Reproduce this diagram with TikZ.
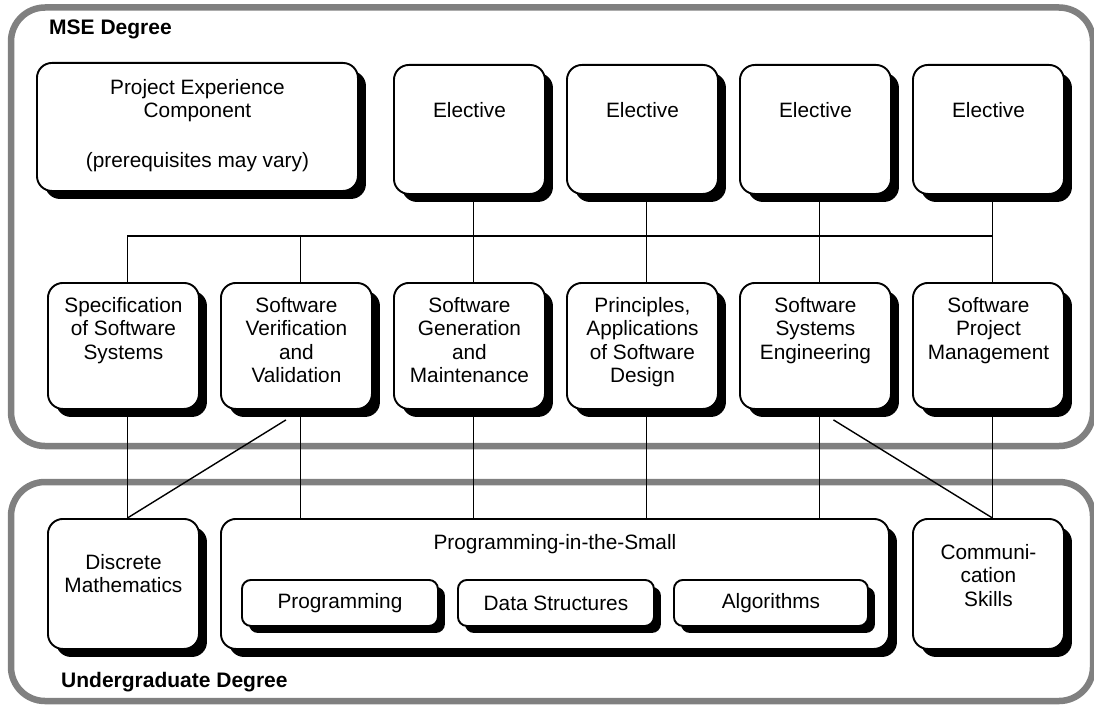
\documentclass[tikz,border=0pt]{standalone}
\usepackage{fontspec}
\setmainfont{Liberation Sans}
\usetikzlibrary{shadows,calc}
\begin{document}
\begin{tikzpicture}[x=1pt,y=-1pt,
  box/.style={draw, line width=1.9pt, fill=white, rounded corners=15pt, inner sep=0pt, anchor=north west,
    drop shadow={shadow xshift=8pt, shadow yshift=-8pt, fill=black, opacity=1}},
  sbox/.style={draw, line width=1.9pt, fill=white, rounded corners=9pt, anchor=north west, inner sep=0pt,
    font=\fontsize{20.8}{23.5}\selectfont,
    drop shadow={shadow xshift=7pt, shadow yshift=-7pt, fill=black, opacity=1}},
  txt/.style={font=\fontsize{20.8}{23.5}\selectfont, align=center, inner sep=0pt, anchor=north},
  ttl/.style={font=\fontsize{21}{24}\selectfont\bfseries, inner sep=0pt, anchor=base west},
  outer/.style={draw=gray, line width=6.5pt, rounded corners=34pt},
  conn/.style={line width=1.8pt}]
\useasboundingbox (0,0) rectangle (1094,706);
% degree frames
\draw[outer] (11,7.5) rectangle (1093,446);
\draw[outer] (11,482) rectangle (1093,701);
\node[ttl] (mse) at (49,35) {MSE Degree};
\node[ttl] (ug) at (61,687) {Undergraduate Degree};
% top row
\node[box, minimum width=321pt, minimum height=128pt] (proj) at (36,62) {};
\node[txt] (projt) at ([yshift=-17pt]proj.north) {Project Experience\\Component\\[26.5pt](prerequisites may vary)};
\foreach \i/\x in {1/393,2/566,3/739,4/912}{
  \node[box, minimum width=151pt, minimum height=129pt] (el\i) at (\x,64) {};
  \node[txt] (el\i t) at ([yshift=-38pt]el\i.north) {Elective};
}
% middle row
\node[box, minimum width=151pt, minimum height=126pt] (spec) at (47,282) {};
\node[box, minimum width=151pt, minimum height=126pt] (svv) at (220,282) {};
\node[box, minimum width=151pt, minimum height=126pt] (sgm) at (393,282) {};
\node[box, minimum width=151pt, minimum height=126pt] (pasd) at (566,282) {};
\node[box, minimum width=151pt, minimum height=126pt] (sse) at (739,282) {};
\node[box, minimum width=151pt, minimum height=126pt] (spm) at (912,282) {};
\node[txt] (spect) at ([yshift=-15pt]spec.north) {Specification\\of Software\\Systems};
\node[txt] (svvt) at ([yshift=-15pt]svv.north) {Software\\Verification\\and\\Validation};
\node[txt] (sgmt) at ([yshift=-15pt]sgm.north) {Software\\Generation\\and\\Maintenance};
\node[txt] (pasdt) at ([yshift=-15pt]pasd.north) {Principles,\\Applications\\of Software\\Design};
\node[txt] (sset) at ([yshift=-15pt]sse.north) {Software\\Systems\\Engineering};
\node[txt] (spmt) at ([yshift=-15pt]spm.north) {Software\\Project\\Management};
% bottom row
\node[box, minimum width=151pt, minimum height=130pt] (dm) at (47,518) {};
\node[box, minimum width=668pt, minimum height=130pt] (pits) at (220,518) {};
\node[box, minimum width=151pt, minimum height=130pt] (comm) at (912,518) {};
\node[txt] (dmt) at ([yshift=-36pt]dm.north) {Discrete\\Mathematics};
\node[txt] (pitst) at ([yshift=-16pt]pits.north) {Programming-in-the-Small};
\node[txt] (commt) at ([yshift=-26pt]comm.north) {Communi-\\cation\\Skills};
\node[sbox, minimum width=196pt, minimum height=46pt] (prog) at (241,579) {Programming};
\node[sbox, minimum width=196pt, minimum height=46pt] (ds) at (457,579) {Data Structures};
\node[sbox, minimum width=194pt, minimum height=46pt] (alg) at (673,579) {Algorithms};
% bus
\coordinate (busL) at ([xshift=4pt]spec.north |- 0,236);
\coordinate (busR) at ([xshift=4pt]spm.north |- 0,236);
\draw[conn] (busL) -- (busR);
\draw[conn] ([xshift=4pt]spec.north) -- (busL);
\draw[conn] ([xshift=4pt]svv.north) -- ([xshift=4pt]svv.north |- busL);
\draw[conn] ([xshift=4pt]el1.south) -- ([xshift=4pt]sgm.north);
\draw[conn] ([xshift=4pt]el2.south) -- ([xshift=4pt]pasd.north);
\draw[conn] ([xshift=4pt]el3.south) -- ([xshift=4pt]sse.north);
\draw[conn] ([xshift=4pt]el4.south) -- ([xshift=4pt]spm.north);
% lower connections
\draw[conn] ([xshift=4pt]spec.south) -- ([xshift=4pt]dm.north);
\draw[conn, line width=1.4pt] ([xshift=-10.5pt,yshift=-10pt]svv.south) -- ([xshift=4pt]dm.north);
\draw[conn] ([xshift=4pt]svv.south) -- ([xshift=4pt]svv.south |- pits.north);
\draw[conn] ([xshift=4pt]sgm.south) -- ([xshift=4pt]sgm.south |- pits.north);
\draw[conn] ([xshift=4pt]pasd.south) -- ([xshift=4pt]pasd.south |- pits.north);
\draw[conn] ([xshift=4pt]sse.south) -- ([xshift=4pt]sse.south |- pits.north);
\draw[conn, line width=1.4pt] ([xshift=18pt,yshift=-10pt]sse.south) -- ([xshift=4pt]comm.north);
\draw[conn] ([xshift=4pt]spm.south) -- ([xshift=4pt]comm.north);
\end{tikzpicture}
\end{document}
